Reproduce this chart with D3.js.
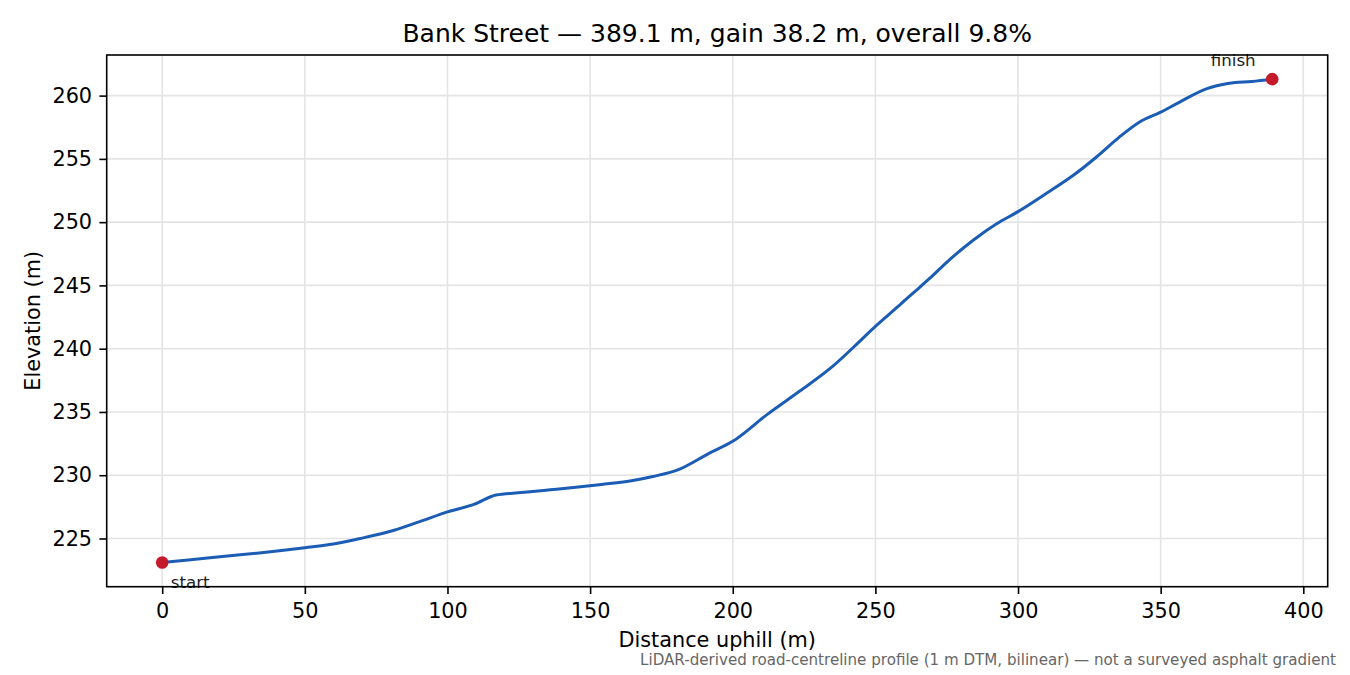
<!DOCTYPE html>
<html>
<head>
<meta charset="utf-8">
<script src="https://cdn.jsdelivr.net/npm/d3@7"></script>
<style>
    html, body { margin: 0; padding: 0; background: #fff; }
    svg { display: block; font-family: "DejaVu Sans", sans-serif; }
</style>
</head>
<body>
<div id="vis"></div>
<script>
const TITLE = 'Bank Street \u2014 389.1 m, gain 38.2 m, overall 9.8%'
const X_LABEL = 'Distance uphill (m)'
const Y_LABEL = 'Elevation (m)'
const FOOTNOTE = 'LiDAR-derived road-centreline profile (1 m DTM, bilinear) \u2014 not a surveyed asphalt gradient'

// distance along the street (m)
const DISTANCE = [
    0, 10, 22, 34, 50, 60, 69, 81, 90.5, 100,
    109.5, 117, 126, 136, 145, 154, 165, 172, 180.5, 192,
    200, 212, 223.5, 235, 244.5, 250, 254, 258.5, 263.5, 269,
    275, 284.5, 292.5, 300, 310, 319.5, 327.5, 335.5, 342.5, 350,
    356.5, 366, 374, 382, 389.1
]

// elevation (m)
const ELEVATION = [
    223.1, 223.32, 223.6, 223.86, 224.27, 224.56, 224.98, 225.63, 226.35, 227.1,
    227.71, 228.44, 228.63, 228.85, 229.05, 229.27, 229.58, 229.9, 230.4, 231.77,
    232.68, 234.79, 236.65, 238.6, 240.58, 241.76, 242.55, 243.45, 244.45, 245.55,
    246.83, 248.61, 249.87, 250.83, 252.28, 253.72, 255.15, 256.72, 257.9, 258.69,
    259.47, 260.53, 260.97, 261.12, 261.3
]

const X_TICKS = [0, 50, 100, 150, 200, 250, 300, 350, 400]
const Y_TICKS = [225, 230, 235, 240, 245, 250, 255, 260]

const ENDPOINTS = [
    {label: 'start', index: 0},
    {label: 'finish', index: DISTANCE.length - 1}
]

let width = 1350
let height = 675
let plot = {left: 106.7, right: 1327.7, top: 55, bottom: 586.7}

let svg = d3.select('#vis')
    .append('svg')
    .attr('width', width)
    .attr('height', height)

let data = DISTANCE.map((d, i) => ({d: d, e: ELEVATION[i]}))

// matplotlib style 5% margins
let xExt = d3.extent(DISTANCE)
let xPad = (xExt[1] - xExt[0]) * 0.05
let yExt = d3.extent(ELEVATION)
let yPad = (yExt[1] - yExt[0]) * 0.05

let x = d3.scaleLinear()
    .domain([xExt[0] - xPad, xExt[1] + xPad])
    .range([plot.left, plot.right])

let y = d3.scaleLinear()
    .domain([yExt[0] - yPad, yExt[1] + yPad])
    .range([plot.bottom, plot.top])

// grid
let grid = svg.append('g')
grid.selectAll('line.vx')
    .data(X_TICKS)
    .enter().append('line')
    .attr('x1', d => x(d))
    .attr('x2', d => x(d))
    .attr('y1', plot.top)
    .attr('y2', plot.bottom)
    .attr('stroke', '#e4e4e4')
    .attr('stroke-width', 1.6)

grid.selectAll('line.hy')
    .data(Y_TICKS)
    .enter().append('line')
    .attr('x1', plot.left)
    .attr('x2', plot.right)
    .attr('y1', d => y(d))
    .attr('y2', d => y(d))
    .attr('stroke', '#e4e4e4')
    .attr('stroke-width', 1.6)

// profile line
let line = d3.line()
    .curve(d3.curveMonotoneX)
    .x(p => x(p.d))
    .y(p => y(p.e))

svg.append('path')
    .datum(data)
    .attr('d', line)
    .attr('fill', 'none')
    .attr('stroke', '#1b5db5')
    .attr('stroke-width', 3)
    .attr('stroke-linejoin', 'round')
    .attr('stroke-linecap', 'round')

// end markers
svg.append('g')
    .selectAll('circle')
    .data(ENDPOINTS)
    .enter().append('circle')
    .attr('cx', p => x(DISTANCE[p.index]))
    .attr('cy', p => y(ELEVATION[p.index]))
    .attr('r', 6.3)
    .attr('fill', '#c41a2b')

svg.append('g')
    .selectAll('text')
    .data(ENDPOINTS)
    .enter().append('text')
    .attr('x', p => x(DISTANCE[p.index]) + (p.label === 'start' ? 8.5 : -39))
    .attr('y', p => y(ELEVATION[p.index]) + (p.label === 'start' ? 25 : -13))
    .attr('text-anchor', p => p.label === 'start' ? 'start' : 'middle')
    .attr('font-size', '16.7px')
    .attr('fill', '#222')
    .text(p => p.label)

// axes
let xAxis = d3.axisBottom(x)
    .tickValues(X_TICKS)
    .tickSize(7.3)
    .tickSizeOuter(0)
    .tickPadding(9)
    .tickFormat(d3.format('d'))

let yAxis = d3.axisLeft(y)
    .tickValues(Y_TICKS)
    .tickSize(7.3)
    .tickSizeOuter(0)
    .tickPadding(7.3)
    .tickFormat(d3.format('d'))

let gx = svg.append('g')
    .attr('transform', `translate(0, ${plot.bottom})`)
    .call(xAxis)

let gy = svg.append('g')
    .attr('transform', `translate(${plot.left}, 0)`)
    .call(yAxis)

for (let g of [gx, gy]) {
    g.select('.domain').remove()
    g.selectAll('line').attr('stroke', '#000').attr('stroke-width', 1.6)
    g.selectAll('text')
        .attr('fill', '#000')
        .style('font-size', '20.8px')
        .style('font-family', '"DejaVu Sans", sans-serif')
}

// frame
svg.append('rect')
    .attr('x', plot.left)
    .attr('y', plot.top)
    .attr('width', plot.right - plot.left)
    .attr('height', plot.bottom - plot.top)
    .attr('fill', 'none')
    .attr('stroke', '#000')
    .attr('stroke-width', 1.6)

// labels
let midX = (plot.left + plot.right) / 2
let midY = (plot.top + plot.bottom) / 2

svg.append('text')
    .attr('x', midX)
    .attr('y', 42)
    .attr('text-anchor', 'middle')
    .attr('font-size', '25px')
    .attr('fill', '#000')
    .text(TITLE)

svg.append('text')
    .attr('x', midX)
    .attr('y', 647)
    .attr('text-anchor', 'middle')
    .attr('font-size', '20.8px')
    .attr('fill', '#000')
    .text(X_LABEL)

svg.append('text')
    .attr('transform', `translate(40, ${midY}) rotate(-90)`)
    .attr('text-anchor', 'middle')
    .attr('font-size', '20.8px')
    .attr('fill', '#000')
    .text(Y_LABEL)

svg.append('text')
    .attr('x', 1336)
    .attr('y', 665)
    .attr('text-anchor', 'end')
    .attr('font-size', '15.1px')
    .attr('fill', '#666')
    .text(FOOTNOTE)
</script>
</body>
</html>
